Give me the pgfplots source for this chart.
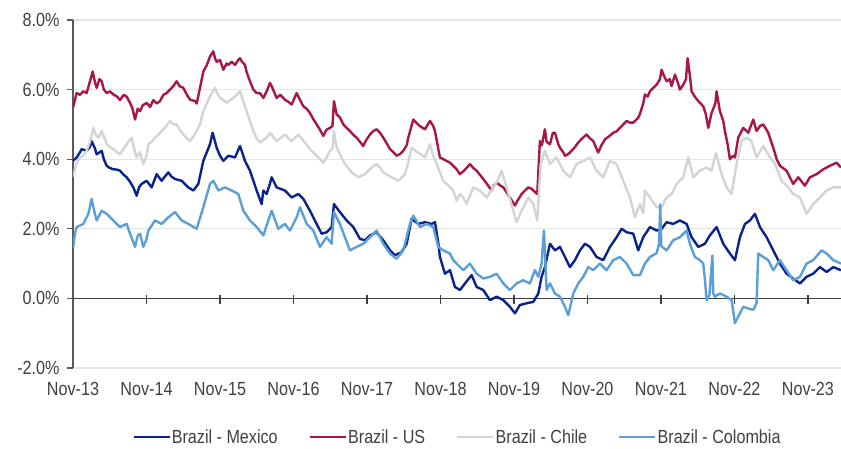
\documentclass[border=0pt]{standalone}
\usepackage{fontspec}
\setmainfont{Liberation Sans}[FakeStretch=0.85]
\usepackage{pgfplots}
\pgfplotsset{compat=1.18}
\definecolor{cMex}{RGB}{10,35,140}
\definecolor{cUS}{RGB}{168,22,68}
\definecolor{cChi}{RGB}{212,212,212}
\definecolor{cCol}{RGB}{92,158,214}
\definecolor{txt}{RGB}{64,64,64}
\begin{document}
\begin{tikzpicture}[x=1pt,y=1pt]
\useasboundingbox (0,0) rectangle (841,448);
\begin{axis}[
 at={(73pt,80pt)}, anchor=south west,
 scale only axis, width=768pt, height=348pt,
 xmin=0, xmax=10.45, ymin=-2, ymax=8,
 clip mode=individual,
 axis x line*=bottom, axis y line*=left,
 x axis line style={draw=none},
 y axis line style={draw=black!65, line width=1.2pt},
 xtick={0,1,2,3,4,5,6,7,8,9,10},
 xticklabels={Nov-13,Nov-14,Nov-15,Nov-16,Nov-17,Nov-18,Nov-19,Nov-20,Nov-21,Nov-22,Nov-23},
 x tick style={draw=none},
 xticklabel style={yshift=-5pt},
 yticklabel style={xshift=-4pt},
 ytick={-2,0,2,4,6,8},
 yticklabels={-2.0\%,0.0\%,2.0\%,4.0\%,6.0\%,8.0\%},
 y tick style={draw=black!65, line width=1.2pt},
 tick align=outside, major tick length=6pt,
 ymajorgrids, grid style={draw=black!10, line width=1.2pt},
 tick label style={font=\fontsize{19}{22}\selectfont, text=txt},
 legend style={at={(0.5,-0.198)}, anchor=center, legend columns=4, draw=none, fill=none,
   font=\fontsize{19}{22}\selectfont, text=txt,
   nodes={inner xsep=1pt},
   /tikz/every even column/.append style={column sep=30pt}},
 legend image code/.code={\draw[#1, line width=2.4pt] (0pt,0pt) -- (36pt,0pt);},
]
\draw[black!75, line width=1.2pt] (axis cs:0,0) -- (axis cs:10.45,0);
\pgfplotsinvokeforeach{1,2,3,4,5,6,7,8,9,10}{\draw[black!75,line width=1.2pt] (axis cs:#1,0) ++(0pt,3pt) -- ++(0pt,-9pt);}
% Brazil - Mexico
\addplot[cMex, line width=2.4pt, line join=round, no markers] coordinates {
(0,3.95)(0.05,4.05)(0.095,4.2)(0.118,4.29)(0.186,4.24)(0.23,4.35)(0.254,4.52)(0.3,4.3)(0.322,4.14)(0.39,4.24)(0.42,4.0)(0.458,3.81)(0.5,3.75)(0.549,3.71)(0.6,3.7)(0.639,3.67)(0.69,3.55)(0.73,3.48)(0.776,3.35)(0.821,3.19)(0.866,2.95)(0.9,3.2)(0.934,3.29)(1.002,3.38)(1.07,3.19)(1.138,3.57)(1.206,3.38)(1.25,3.5)(1.297,3.62)(1.34,3.5)(1.388,3.43)(1.478,3.38)(1.569,3.19)(1.637,3.1)(1.705,3.29)(1.773,3.95)(1.864,4.43)(1.9,4.76)(1.955,4.33)(2.0,4.1)(2.046,3.95)(2.114,4.1)(2.204,4.05)(2.272,4.38)(2.317,4.1)(2.34,3.95)(2.408,3.67)(2.499,3.1)(2.567,2.71)(2.59,3.1)(2.635,3.0)(2.68,3.3)(2.703,3.48)(2.771,3.19)(2.884,3.1)(2.975,2.9)(3.066,3.0)(3.134,2.86)(3.224,2.52)(3.315,2.14)(3.383,1.86)(3.451,1.9)(3.519,2.05)(3.551,2.71)(3.632,2.48)(3.723,2.24)(3.814,2.05)(3.905,1.71)(3.973,1.67)(4.041,1.81)(4.131,1.9)(4.222,1.67)(4.313,1.38)(4.381,1.24)(4.471,1.33)(4.54,1.57)(4.607,2.29)(4.698,2.14)(4.789,2.19)(4.88,2.14)(4.925,2.19)(4.97,1.6)(4.993,1.19)(5.061,0.71)(5.129,0.81)(5.197,0.33)(5.265,0.24)(5.333,0.43)(5.424,0.67)(5.492,0.33)(5.583,0.24)(5.673,-0.05)(5.764,0.05)(5.855,-0.05)(5.945,-0.24)(6.013,-0.43)(6.081,-0.19)(6.172,-0.14)(6.263,-0.1)(6.331,0.14)(6.376,0.62)(6.421,0.9)(6.49,1.57)(6.558,1.38)(6.626,1.48)(6.694,1.19)(6.762,0.9)(6.83,1.1)(6.898,1.38)(6.966,1.57)(7.034,1.48)(7.124,1.19)(7.215,1.1)(7.306,1.48)(7.397,1.76)(7.465,2.0)(7.533,1.9)(7.623,1.86)(7.691,1.38)(7.759,1.76)(7.85,2.05)(7.941,1.95)(8.009,2.0)(8.077,2.19)(8.167,2.14)(8.258,2.24)(8.349,2.14)(8.417,1.76)(8.508,1.48)(8.598,1.57)(8.666,1.81)(8.757,2.05)(8.848,1.57)(8.938,1.29)(9.007,1.1)(9.075,1.76)(9.143,2.14)(9.211,2.24)(9.279,2.43)(9.347,2.05)(9.437,1.76)(9.528,1.38)(9.619,1.0)(9.709,0.71)(9.8,0.57)(9.891,0.43)(9.982,0.62)(10.072,0.71)(10.163,0.9)(10.254,0.76)(10.345,0.9)(10.449,0.81)
};
% Brazil - US
\addplot[cUS, line width=2.4pt, line join=round, no markers] coordinates {
(0,5.48)(0.05,5.9)(0.095,5.85)(0.14,5.95)(0.186,5.9)(0.231,6.24)(0.268,6.52)(0.3,6.2)(0.322,6.05)(0.36,6.3)(0.39,6.24)(0.42,6.0)(0.458,5.9)(0.5,5.95)(0.549,5.86)(0.6,5.8)(0.639,5.7)(0.69,5.85)(0.73,5.8)(0.776,5.62)(0.81,5.45)(0.844,5.14)(0.88,5.45)(0.912,5.38)(0.95,5.55)(1.002,5.62)(1.05,5.5)(1.093,5.7)(1.14,5.6)(1.184,5.67)(1.23,5.85)(1.274,5.9)(1.32,6.0)(1.365,6.1)(1.41,6.24)(1.45,6.1)(1.501,6.05)(1.55,5.85)(1.592,5.71)(1.66,5.67)(1.683,5.6)(1.728,6.05)(1.773,6.52)(1.82,6.7)(1.864,6.95)(1.91,7.1)(1.932,6.9)(1.955,6.8)(2.0,6.85)(2.046,6.57)(2.09,6.75)(2.114,6.71)(2.159,6.8)(2.204,6.71)(2.249,6.85)(2.272,6.9)(2.3,6.8)(2.34,6.71)(2.363,6.5)(2.408,6.24)(2.454,6.0)(2.499,5.9)(2.544,5.9)(2.59,5.76)(2.635,5.95)(2.68,6.19)(2.703,6.1)(2.771,5.76)(2.82,5.85)(2.884,5.71)(2.93,5.65)(2.975,5.57)(3.043,5.9)(3.09,5.7)(3.134,5.52)(3.179,5.45)(3.224,5.33)(3.27,5.15)(3.315,5.0)(3.36,4.85)(3.406,4.67)(3.45,4.85)(3.496,4.9)(3.53,4.95)(3.551,5.67)(3.587,5.29)(3.632,5.2)(3.678,5.0)(3.723,4.9)(3.768,4.81)(3.814,4.7)(3.859,4.62)(3.905,4.5)(3.95,4.38)(3.99,4.55)(4.041,4.71)(4.08,4.8)(4.131,4.86)(4.18,4.75)(4.222,4.62)(4.27,4.45)(4.313,4.29)(4.36,4.2)(4.403,4.1)(4.45,4.15)(4.494,4.24)(4.54,4.4)(4.562,4.62)(4.63,5.14)(4.67,5.05)(4.721,4.95)(4.789,4.86)(4.857,5.1)(4.902,4.95)(4.925,4.81)(4.97,4.3)(4.993,4.05)(5.038,4.0)(5.084,3.95)(5.129,3.9)(5.174,3.81)(5.22,3.71)(5.265,3.57)(5.31,3.65)(5.356,3.75)(5.401,3.86)(5.446,3.75)(5.492,3.67)(5.537,3.55)(5.583,3.43)(5.628,3.3)(5.696,3.1)(5.73,3.25)(5.764,3.33)(5.81,3.25)(5.855,3.19)(5.9,3.05)(5.945,2.9)(6.013,2.67)(6.06,2.85)(6.104,3.0)(6.15,3.1)(6.195,3.19)(6.24,3.15)(6.263,3.1)(6.317,3.0)(6.353,4.52)(6.38,4.4)(6.421,4.86)(6.444,4.5)(6.49,4.43)(6.53,4.76)(6.558,4.76)(6.6,4.45)(6.626,4.33)(6.671,4.2)(6.694,4.1)(6.74,4.15)(6.784,4.24)(6.83,4.35)(6.875,4.48)(6.93,4.6)(6.988,4.71)(7.034,4.6)(7.079,4.52)(7.124,4.3)(7.147,4.19)(7.19,4.4)(7.238,4.57)(7.29,4.65)(7.351,4.76)(7.397,4.8)(7.442,4.9)(7.487,5.0)(7.533,5.1)(7.578,5.05)(7.623,5.05)(7.691,5.19)(7.714,5.3)(7.759,5.6)(7.782,5.86)(7.82,5.8)(7.85,5.95)(7.895,6.05)(7.941,6.14)(7.986,6.3)(8.009,6.57)(8.04,6.4)(8.077,6.24)(8.12,6.3)(8.145,6.1)(8.19,6.43)(8.23,6.2)(8.258,6.0)(8.304,6.14)(8.34,6.3)(8.363,6.9)(8.394,6.4)(8.417,5.95)(8.46,5.8)(8.508,5.67)(8.576,5.52)(8.61,5.3)(8.644,4.9)(8.689,5.33)(8.74,5.6)(8.757,5.95)(8.802,5.38)(8.848,5.1)(8.87,4.81)(8.91,4.4)(8.938,4.0)(8.98,4.1)(9.007,4.05)(9.052,4.62)(9.12,4.9)(9.188,4.76)(9.256,5.14)(9.301,4.81)(9.347,4.95)(9.392,5.0)(9.46,4.76)(9.528,4.33)(9.575,4.0)(9.619,3.81)(9.709,3.67)(9.75,3.5)(9.8,3.29)(9.868,3.48)(9.959,3.24)(10.027,3.48)(10.118,3.57)(10.208,3.71)(10.299,3.81)(10.39,3.9)(10.449,3.76)
};
% Brazil - Chile
\addplot[cChi, line width=2.4pt, line join=round, no markers] coordinates {
(0,3.5)(0.05,3.9)(0.095,4.05)(0.14,4.1)(0.186,4.24)(0.231,4.5)(0.277,4.9)(0.31,4.7)(0.345,4.62)(0.39,4.81)(0.43,4.6)(0.458,4.43)(0.5,4.35)(0.549,4.29)(0.6,4.2)(0.639,4.14)(0.69,4.3)(0.73,4.43)(0.798,4.62)(0.82,4.4)(0.866,4.05)(0.91,4.2)(0.957,3.86)(1.0,4.1)(1.025,4.43)(1.07,4.5)(1.116,4.62)(1.16,4.7)(1.206,4.81)(1.25,4.9)(1.32,5.1)(1.365,5.0)(1.41,5.0)(1.45,4.85)(1.501,4.71)(1.55,4.6)(1.592,4.52)(1.637,4.65)(1.683,4.81)(1.728,5.0)(1.773,5.38)(1.82,5.6)(1.864,5.81)(1.932,6.05)(1.96,5.9)(2.0,5.76)(2.046,5.7)(2.091,5.62)(2.14,5.7)(2.181,5.76)(2.23,5.85)(2.272,5.95)(2.31,5.7)(2.363,5.38)(2.408,5.1)(2.454,4.81)(2.499,4.6)(2.544,4.48)(2.59,4.55)(2.635,4.62)(2.68,4.76)(2.703,4.7)(2.771,4.52)(2.82,4.6)(2.884,4.71)(2.93,4.6)(2.975,4.52)(3.066,4.71)(3.11,4.6)(3.156,4.48)(3.2,4.35)(3.247,4.24)(3.338,4.05)(3.406,3.9)(3.45,4.05)(3.496,4.24)(3.53,4.3)(3.551,4.81)(3.58,4.4)(3.61,4.24)(3.7,3.86)(3.791,3.62)(3.882,3.48)(3.973,3.57)(4.063,3.76)(4.131,3.86)(4.18,3.75)(4.222,3.62)(4.335,3.48)(4.426,3.38)(4.517,3.57)(4.56,3.9)(4.607,4.33)(4.65,4.25)(4.698,4.19)(4.789,4.05)(4.857,4.43)(4.9,4.1)(4.948,3.86)(5.038,3.38)(5.129,3.2)(5.174,3.1)(5.22,2.81)(5.265,3.0)(5.31,2.9)(5.356,2.71)(5.446,3.19)(5.537,3.1)(5.628,2.9)(5.719,3.19)(5.78,3.4)(5.832,3.67)(5.9,3.19)(5.991,2.52)(6.036,2.19)(6.104,2.52)(6.195,2.9)(6.263,2.71)(6.317,2.24)(6.363,3.86)(6.421,4.24)(6.49,3.86)(6.58,4.05)(6.671,3.67)(6.762,3.48)(6.852,3.86)(6.943,3.95)(7.034,4.05)(7.124,3.67)(7.215,3.48)(7.306,3.95)(7.397,3.86)(7.487,3.38)(7.578,2.9)(7.646,2.33)(7.714,2.71)(7.759,2.45)(7.782,3.1)(7.85,2.9)(7.941,2.62)(8.009,2.62)(8.077,2.9)(8.145,3.0)(8.213,3.29)(8.304,3.48)(8.372,4.05)(8.44,3.48)(8.53,3.67)(8.621,3.76)(8.689,3.67)(8.748,4.19)(8.825,3.57)(8.893,3.19)(8.961,3.0)(9.029,3.86)(9.097,4.52)(9.165,4.62)(9.233,4.52)(9.301,4.05)(9.392,4.38)(9.483,4.05)(9.551,3.86)(9.641,3.38)(9.732,3.19)(9.8,3.0)(9.891,2.9)(9.982,2.43)(10.072,2.71)(10.163,2.9)(10.254,3.1)(10.345,3.19)(10.449,3.19)
};
% Brazil - Colombia
\addplot[cCol, line width=2.4pt, line join=round, no markers] coordinates {
(0,1.45)(0.03,1.9)(0.05,2.05)(0.14,2.14)(0.209,2.43)(0.254,2.86)(0.29,2.5)(0.322,2.24)(0.39,2.52)(0.458,2.43)(0.549,2.24)(0.639,2.05)(0.73,2.14)(0.776,1.86)(0.844,1.48)(0.88,1.8)(0.912,1.86)(0.957,1.48)(1.0,1.7)(1.025,1.95)(1.116,2.24)(1.206,2.14)(1.297,2.33)(1.388,2.48)(1.478,2.24)(1.569,2.14)(1.683,2.0)(1.773,2.62)(1.864,3.29)(1.91,3.38)(1.978,3.1)(2.068,3.19)(2.159,3.1)(2.249,3.0)(2.317,2.52)(2.408,2.24)(2.499,2.05)(2.59,1.81)(2.635,2.1)(2.703,2.52)(2.793,2.0)(2.884,2.14)(2.952,1.95)(3.043,2.33)(3.088,2.62)(3.179,2.14)(3.27,1.95)(3.36,1.48)(3.451,1.76)(3.519,1.57)(3.551,2.48)(3.632,2.14)(3.7,1.76)(3.768,1.38)(3.859,1.48)(3.95,1.57)(4.041,1.76)(4.131,1.95)(4.222,1.57)(4.313,1.29)(4.403,1.14)(4.494,1.38)(4.585,2.14)(4.63,2.38)(4.721,2.05)(4.812,2.14)(4.902,2.05)(4.97,1.48)(5.038,1.38)(5.129,1.29)(5.174,1.1)(5.22,1.0)(5.31,0.81)(5.401,1.0)(5.492,0.71)(5.583,0.57)(5.673,0.62)(5.764,0.71)(5.855,0.43)(5.945,0.24)(6.036,0.43)(6.127,0.52)(6.217,0.43)(6.285,0.81)(6.331,0.62)(6.376,1.0)(6.408,1.95)(6.444,0.24)(6.49,0.43)(6.558,0.14)(6.626,0.05)(6.694,-0.24)(6.739,-0.48)(6.807,0.14)(6.875,0.43)(6.943,0.62)(7.011,0.9)(7.079,0.81)(7.17,1.0)(7.26,0.81)(7.351,1.1)(7.442,1.19)(7.533,1.0)(7.623,0.67)(7.714,0.67)(7.782,1.0)(7.85,1.19)(7.941,1.3)(7.975,1.57)(7.99,2.7)(8.005,1.5)(8.077,1.38)(8.167,1.67)(8.258,1.76)(8.349,1.95)(8.394,1.57)(8.462,1.19)(8.53,1.1)(8.576,1.0)(8.6,0.5)(8.621,-0.05)(8.66,0.1)(8.7,1.23)(8.712,0.14)(8.734,0.05)(8.802,0.14)(8.893,0.05)(8.961,-0.05)(9.007,-0.71)(9.052,-0.52)(9.12,-0.24)(9.188,-0.29)(9.256,-0.33)(9.301,-0.14)(9.324,1.29)(9.392,1.19)(9.46,1.1)(9.528,0.81)(9.619,1.1)(9.709,0.81)(9.8,0.52)(9.891,0.62)(9.982,1.0)(10.072,1.1)(10.186,1.38)(10.254,1.29)(10.345,1.1)(10.449,1.0)
};
\legend{Brazil - Mexico, Brazil - US, Brazil - Chile, Brazil - Colombia}
\end{axis}
\end{tikzpicture}
\end{document}
